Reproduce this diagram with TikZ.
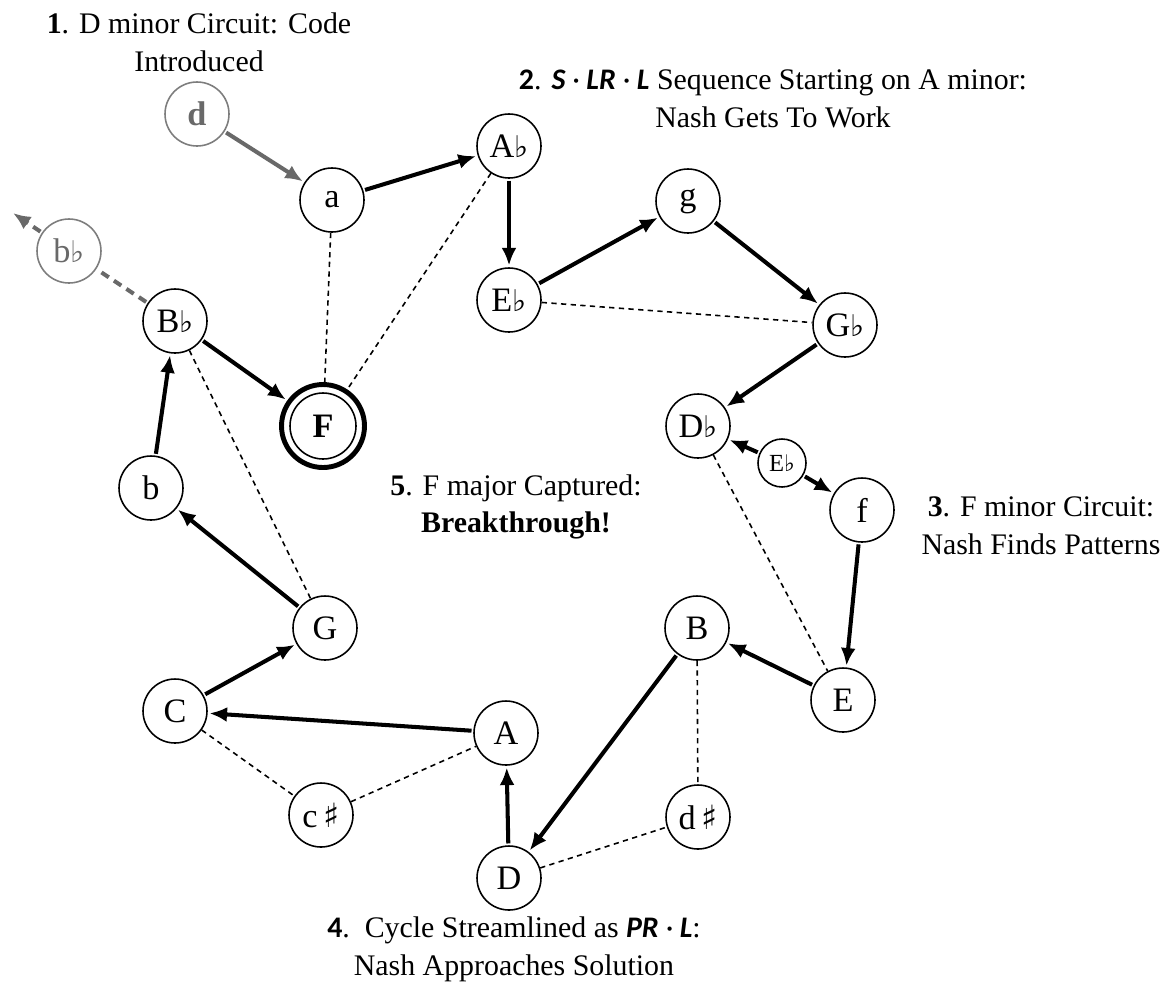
\documentclass[tikz,border=0pt]{standalone}
\usepackage{fontspec}
\setmainfont{Liberation Serif}
\newfontfamily\calfont{Carlito}
\newfontfamily\symfont{DejaVu Sans}
\usetikzlibrary{arrows.meta}
\newcommand{\myflat}{{\symfont\fontsize{17}{17}\selectfont ♭}}
\newcommand{\mysmallflat}{{\symfont\fontsize{13}{13}\selectfont ♭}}
\newcommand{\mysharp}{\,{\symfont\fontsize{19}{19}\selectfont ♯}}
\definecolor{arrgray}{RGB}{105,105,105}
\definecolor{nodegray}{RGB}{125,125,125}
\tikzset{
  note/.style={circle, draw, line width=0.9pt, minimum size=1.28cm, inner sep=0pt, font=\fontsize{19.5}{22}\selectfont},
  graynote/.style={note, draw=nodegray, text=arrgray},
  smallnote/.style={circle, draw, line width=0.9pt, minimum size=0.96cm, inner sep=0pt, font=\fontsize{14}{16}\selectfont},
  mv/.style={line width=2.3pt, -{Latex[length=10pt,width=8.5pt]}, shorten >=1pt, shorten <=1pt},
  grayarr/.style={mv, draw=arrgray, color=arrgray},
  rel/.style={line width=0.9pt, dash pattern=on 3pt off 2.5pt},
  graydash/.style={line width=2.3pt, draw=arrgray, dash pattern=on 5pt off 3.5pt},
  caption/.style={align=center, font=\fontsize{17}{21.5}\selectfont},
}
\begin{document}
\begin{tikzpicture}[x=0.02cm, y=-0.02cm]
\useasboundingbox (0,0) rectangle (1169,998);
% nodes
\node[graynote, font=\fontsize{19.5}{22}\selectfont\bfseries] (d) at (197,114) {d};
\node[note] (a) at (332,200) {a};
\node[note] (Ab) at (509,146) {A\myflat};
\node[note] (Eb) at (509,300) {E\myflat};
\node[note] (g) at (688,201) {g};
\node[note] (Gb) at (845,325) {G\myflat};
\node[note] (Db) at (698,426) {D\myflat};
\node[smallnote] (Ebs) at (782,463) {E\mysmallflat};
\node[note] (f) at (862,510) {f};
\node[note] (E) at (843,700) {E};
\node[note] (B) at (697,628) {B};
\node[note] (dis) at (698,817) {d\mysharp};
\node[note] (D) at (509,878) {D};
\node[note] (A) at (506,733) {A};
\node[note] (cis) at (321,815) {c\mysharp};
\node[note] (C) at (175,711) {C};
\node[note] (G) at (325,628) {G};
\node[note] (b) at (151,488) {b};
\node[note] (Bb) at (175,321) {B\myflat};
\node[graynote] (bb) at (69,251) {b\myflat};
\coordinate (bbend) at (13,213);
\node[note, font=\fontsize{19.5}{22}\selectfont\bfseries, minimum size=1.32cm] (F) at (323,426) {F};
\node[circle, draw, line width=2.8pt, minimum size=1.66cm, inner sep=0pt] (Fo) at (323,426) {};
% captions
\node[caption] (t1) at (199,42) {\textbf{1}. D minor Circuit: Code\\Introduced};
\node[caption] (t2) at (773,99) {{\calfont\bfseries 2}. {\calfont\bfseries\itshape S \textmd{·} LR \textmd{·} L} Sequence Starting on A minor:\\Nash Gets To Work};
\node[caption] (t3) at (1041,526) {\textbf{3}. F minor Circuit:\\Nash Finds Patterns};
\node[caption] (t4) at (514,949) {{\calfont\bfseries 4}.\ \ Cycle Streamlined as {\calfont\bfseries\itshape PR \textmd{·} L}:\\Nash Approaches Solution};
\node[caption] (t5) at (516,507) {\textbf{5}. F major Captured:\\\textbf{Breakthrough!}};
% relations (dashed)
\draw[rel] (a) -- (Fo);
\draw[rel] (Ab) -- (Fo);
\draw[rel] (Eb) -- (Gb);
\draw[rel] (Bb) -- (G);
\draw[rel] (Db) -- (E);
\draw[rel] (B) -- (dis);
\draw[rel] (D) -- (dis);
\draw[rel] (C) -- (cis);
\draw[rel] (cis) -- (A);
% moves
\draw[grayarr] (d) -- (a);
\draw[mv] (a) -- (Ab);
\draw[mv] (Ab) -- (Eb);
\draw[mv] (Eb) -- (g);
\draw[mv] (g) -- (Gb);
\draw[mv] (Gb) -- (Db);
\draw[mv] (Ebs) -- (Db);
\draw[mv] (Ebs) -- (f);
\draw[mv] (f) -- (E);
\draw[mv] (E) -- (B);
\draw[mv] (B) -- (D);
\draw[mv] (D) -- (A);
\draw[mv] (A) -- (C);
\draw[mv] (C) -- (G);
\draw[mv] (G) -- (b);
\draw[mv] (b) -- (Bb);
\draw[mv] (Bb) -- (Fo);
\draw[graydash, shorten <=1pt, shorten >=1pt] (Bb) -- (bb);
\draw[graydash, -{Latex[length=10pt,width=8.5pt]}, shorten <=1pt] (bb) -- (bbend);
\end{tikzpicture}
\end{document}
